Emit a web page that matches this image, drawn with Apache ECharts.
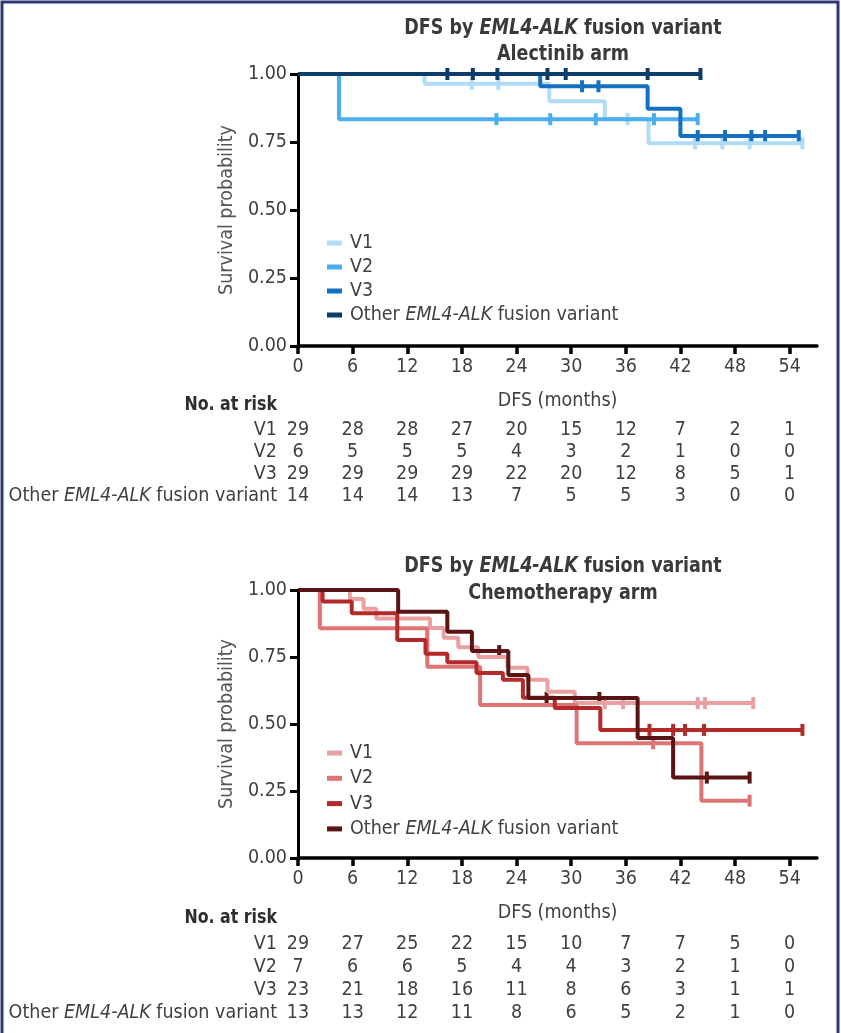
<!DOCTYPE html>
<html><head><meta charset="utf-8">
<script src="https://cdn.jsdelivr.net/npm/echarts@6/dist/echarts.min.js"></script>
<style>html,body{margin:0;padding:0;background:#fff}#c{width:841px;height:1033px}</style>
</head><body><div id="c"></div>
<script>
// ---------- data ----------
const monthTicks = [0, 6, 12, 18, 24, 30, 36, 42, 48, 54];
const riskRows = ['V1', 'V2', 'V3', 'Other'];

// Alectinib arm (time of step, survival after step), end of follow-up, censor times
const alV1Time = [0, 13.9, 27.6, 33.7, 38.5];
const alV1Surv = [1, 0.964, 0.90, 0.835, 0.745];
const alV1End = 55.4;
const alV1Cens = [19.1, 22.0, 36.2, 43.6, 46.6, 49.6, 55.4];

const alV2Time = [0, 4.5];
const alV2Surv = [1, 0.834];
const alV2End = 43.9;
const alV2Cens = [21.8, 27.7, 32.7, 39.1, 43.9];

const alV3Time = [0, 26.6, 38.4, 42.0];
const alV3Surv = [1, 0.955, 0.872, 0.772];
const alV3End = 55.0;
const alV3Cens = [31.2, 33.0, 43.9, 46.9, 49.8, 51.3, 55.0];

const alOtTime = [0];
const alOtSurv = [1];
const alOtEnd = 44.2;
const alOtCens = [16.4, 19.2, 21.9, 27.4, 29.4, 38.4, 44.2];

// Chemotherapy arm
const chV1Time = [0, 5.7, 7.2, 8.6, 14.5, 16.0, 17.6, 19.8, 23.0, 25.2, 27.4, 30.4];
const chV1Surv = [1, 0.966, 0.93, 0.894, 0.858, 0.822, 0.786, 0.75, 0.71, 0.665, 0.62, 0.578];
const chV1End = 50.0;
const chV1Cens = [33.7, 35.7, 43.9, 44.7, 50.0];

const chV2Time = [0, 2.4, 14.2, 20.0, 30.6, 44.3];
const chV2Surv = [1, 0.857, 0.714, 0.571, 0.428, 0.214];
const chV2End = 49.6;
const chV2Cens = [39.0, 49.6];

const chV3Time = [0, 2.7, 5.9, 10.9, 14.0, 16.4, 19.6, 22.5, 24.7, 28.2, 33.2];
const chV3Surv = [1, 0.957, 0.913, 0.813, 0.762, 0.73, 0.69, 0.665, 0.598, 0.56, 0.478];
const chV3End = 55.4;
const chV3Cens = [38.6, 41.2, 42.5, 44.6, 55.4];

const chOtTime = [0, 11.0, 16.4, 19.1, 23.1, 25.3, 37.3, 41.2];
const chOtSurv = [1, 0.919, 0.844, 0.772, 0.683, 0.597, 0.448, 0.300];
const chOtEnd = 49.6;
const chOtCens = [22.1, 27.3, 33.1, 44.9, 49.6];

// numbers at risk
const alRiskV1 = [29, 28, 28, 27, 20, 15, 12, 7, 2, 1];
const alRiskV2 = [6, 5, 5, 5, 4, 3, 2, 1, 0, 0];
const alRiskV3 = [29, 29, 29, 29, 22, 20, 12, 8, 5, 1];
const alRiskOther = [14, 14, 14, 13, 7, 5, 5, 3, 0, 0];
const chRiskV1 = [29, 27, 25, 22, 15, 10, 7, 7, 5, 0];
const chRiskV2 = [7, 6, 6, 5, 4, 4, 3, 2, 1, 0];
const chRiskV3 = [23, 21, 18, 16, 11, 8, 6, 3, 1, 1];
const chRiskOther = [13, 13, 12, 11, 8, 6, 5, 2, 1, 0];

// ---------- styling ----------
const FONT = '"DejaVu Sans Condensed", "Liberation Sans Narrow", sans-serif';
const TXT = '#404040';
const FS = 19.5;
const blue = ['#b0dcf8', '#4aaef0', '#1570c0', '#0c3c68'];
const red = ['#eaa0a0', '#e07474', '#b22a2a', '#5a1414'];

function survAt(times, surv, t) {
  let s = surv[0];
  for (let i = 0; i < times.length; i++) if (times[i] <= t) s = surv[i];
  return s;
}
function km(name, times, surv, end, color, ax) {
  const d = times.map((t, i) => [t, surv[i]]);
  d.push([end, surv[surv.length - 1]]);
  return {
    type: 'line', name: name, step: 'end', data: d, symbol: 'none',
    xAxisIndex: ax, yAxisIndex: ax, color: color,
    lineStyle: { color: color, width: 4 }, itemStyle: { color: color },
    silent: true, animation: false, clip: false
  };
}
function cens(name, times, surv, cs, color, ax) {
  return {
    type: 'scatter', name: name + '_c', data: cs.map(c => [c, survAt(times, surv, c)]),
    xAxisIndex: ax, yAxisIndex: ax, symbol: 'rect', symbolSize: [4, 12],
    itemStyle: { color: color, opacity: 1 }, silent: true, animation: false, clip: false
  };
}
function risk(row, vals, ax) {
  return {
    type: 'scatter', data: monthTicks.map((m, i) => [m, row, vals[i]]),
    xAxisIndex: ax, yAxisIndex: ax, symbolSize: 0, silent: true, animation: false,
    itemStyle: { opacity: 1 },
    label: { show: true, position: 'inside', formatter: p => String(p.value[2]),
      fontSize: FS, fontFamily: FONT, color: TXT, opacity: 1 }
  };
}
const richN = { n: { fontSize: FS, fontFamily: FONT, color: TXT }, i: { fontSize: FS, fontFamily: FONT, color: TXT, fontStyle: 'italic' } };
const otherRich = '{n|Other }{i|EML4-ALK}{n| fusion variant}';

function kmX(idx) {
  return {
    type: 'value', gridIndex: idx, min: 0, max: 57,
    name: 'DFS (months)', nameLocation: 'middle', nameGap: 45,
    nameTextStyle: { fontSize: FS, fontFamily: FONT, color: TXT },
    axisLine: { lineStyle: { color: '#000', width: 3.5 } },
    axisTick: { length: 8, lineStyle: { color: '#000', width: 3.5 }, customValues: monthTicks },
    axisLabel: { fontSize: FS, fontFamily: FONT, color: TXT, margin: 11, customValues: monthTicks },
    splitLine: { show: false }
  };
}
function kmY(idx) {
  return {
    type: 'value', gridIndex: idx, min: 0, max: 1, interval: 0.25,
    name: 'Survival probability', nameLocation: 'middle', nameGap: 54,
    nameTextStyle: { fontSize: FS, fontFamily: FONT, color: '#555' },
    axisLine: { show: true, lineStyle: { color: '#000', width: 3 } },
    axisTick: { show: true, length: 8, lineStyle: { color: '#000', width: 3 } },
    axisLabel: { fontSize: FS, fontFamily: FONT, color: TXT, margin: 11, formatter: v => v.toFixed(2) },
    splitLine: { show: false }
  };
}
function riskX(idx) {
  return { type: 'value', gridIndex: idx, min: 0, max: 57, show: false };
}
function riskY(idx) {
  return {
    type: 'category', gridIndex: idx, data: riskRows, inverse: true,
    axisLine: { show: false }, axisTick: { show: false }, splitLine: { show: false },
    axisLabel: { interval: 0, margin: 21, fontSize: FS, fontFamily: FONT, color: TXT,
      formatter: v => v === 'Other' ? otherRich : '{n|' + v + '}', rich: richN }
  };
}
function legend(top, names, gap) {
  return {
    orient: 'vertical', left: 322, top: top, data: names, icon: 'rect',
    itemWidth: 15, itemHeight: 5, itemGap: gap, selectedMode: false,
    textStyle: { fontSize: FS, fontFamily: FONT, color: TXT, lineHeight: 22, padding: [0, 0, 0, 3], rich: richN },
    formatter: n => n.endsWith('Other') ? otherRich : '{n|' + n.slice(2) + '}'
  };
}
function title(y1, y2, sub) {
  const f = 'bold 22px ' + FONT;
  return [
    { type: 'text', x: 563, y: y1, scaleX: 0.885, style: {
        text: '{b|DFS by }{bi|EML4-ALK}{b| fusion variant}', align: 'center', verticalAlign: 'middle',
        rich: { b: { font: f, fill: '#3a3a3a' }, bi: { font: 'italic ' + f, fill: '#3a3a3a' } } } },
    { type: 'text', x: 563, y: y2, scaleX: 0.885, style: { text: sub, font: f, fill: '#3a3a3a', align: 'center', verticalAlign: 'middle' } }
  ];
}
function riskHead(y) {
  return { type: 'text', x: 277, y: y, scaleX: 0.88, style: { text: 'No. at risk', font: 'bold 20px ' + FONT, fill: '#2e2e2e', align: 'right', verticalAlign: 'middle' } };
}

const chart = echarts.init(document.getElementById('c'), null, { renderer: 'canvas' });
chart.setOption({
  backgroundColor: '#fff',
  animation: false,
  grid: [
    { left: 298, top: 74, width: 519, height: 272 },
    { left: 298, top: 419, width: 519, height: 88 },
    { left: 298, top: 590, width: 519, height: 268 },
    { left: 298, top: 933, width: 519, height: 91 }
  ],
  xAxis: [kmX(0), riskX(1), kmX(2), riskX(3)],
  yAxis: [kmY(0), riskY(1), kmY(2), riskY(3)],
  legend: [
    legend(227, ['a V1', 'a V2', 'a V3', 'a Other'], 2),
    legend(737, ['c V1', 'c V2', 'c V3', 'c Other'], 3.3)
  ],
  graphic: [
    { type: 'rect', shape: { x: 2, y: 2, width: 836, height: 1060 }, style: { fill: 'none', stroke: '#2e3877', lineWidth: 3 }, silent: true },
    ...title(28, 54, 'Alectinib arm'),
    ...title(566, 593, 'Chemotherapy arm'),
    riskHead(405),
    riskHead(918)
  ],
  series: [
    km('a V1', alV1Time, alV1Surv, alV1End, blue[0], 0),
    km('a V2', alV2Time, alV2Surv, alV2End, blue[1], 0),
    km('a V3', alV3Time, alV3Surv, alV3End, blue[2], 0),
    km('a Other', alOtTime, alOtSurv, alOtEnd, blue[3], 0),
    cens('a V1', alV1Time, alV1Surv, alV1Cens, blue[0], 0),
    cens('a V2', alV2Time, alV2Surv, alV2Cens, blue[1], 0),
    cens('a V3', alV3Time, alV3Surv, alV3Cens, blue[2], 0),
    cens('a Other', alOtTime, alOtSurv, alOtCens, blue[3], 0),
    km('c V1', chV1Time, chV1Surv, chV1End, red[0], 2),
    km('c V2', chV2Time, chV2Surv, chV2End, red[1], 2),
    km('c V3', chV3Time, chV3Surv, chV3End, red[2], 2),
    km('c Other', chOtTime, chOtSurv, chOtEnd, red[3], 2),
    cens('c V1', chV1Time, chV1Surv, chV1Cens, red[0], 2),
    cens('c V2', chV2Time, chV2Surv, chV2Cens, red[1], 2),
    cens('c V3', chV3Time, chV3Surv, chV3Cens, red[2], 2),
    cens('c Other', chOtTime, chOtSurv, chOtCens, red[3], 2),
    risk('V1', alRiskV1, 1), risk('V2', alRiskV2, 1), risk('V3', alRiskV3, 1), risk('Other', alRiskOther, 1),
    risk('V1', chRiskV1, 3), risk('V2', chRiskV2, 3), risk('V3', chRiskV3, 3), risk('Other', chRiskOther, 3)
  ]
});
</script></body></html>
